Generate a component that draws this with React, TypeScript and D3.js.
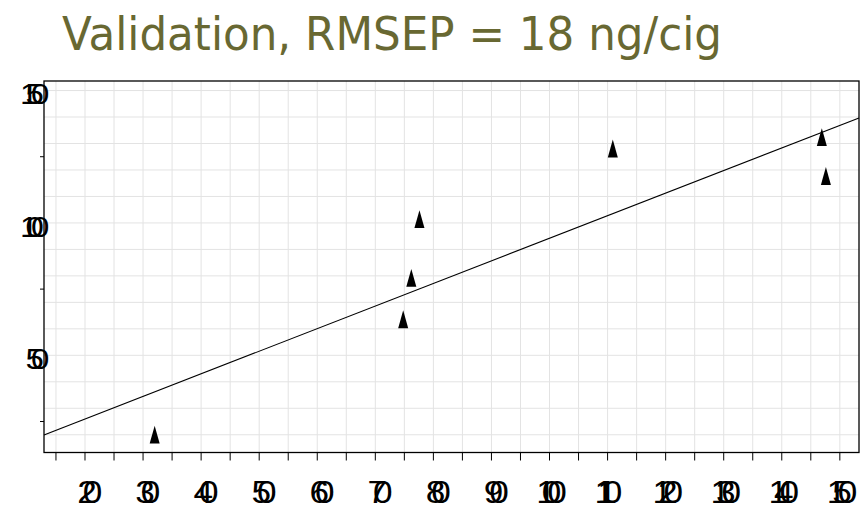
import * as d3 from "d3";
import React from "react";

// observed vs predicted (ng/cig)
const measured = [32.0, 74.8, 76.2, 77.6, 110.9, 146.9, 147.6];
const predicted = [18.9, 62.5, 78.1, 100.3, 127.0, 131.3, 116.6];

// fitted line: y = a + b x
const fitIntercept = 8.9;
const fitSlope = 0.853;

const xTickLabels = [20, 30, 40, 50, 60, 70, 80, 90, 100, 110, 120, 130, 140, 150];
const yTickLabels = [50, 100, 150];

const titleText = "Validation, RMSEP = 18 ng/cig";

const W = 867;
const H = 507;
const plot = { left: 44, right: 859, top: 81, bottom: 452.5 };

// digits in the original are squeezed on top of each other
const STEP = 5.5;
const SX = 1.1;

const SquashedNumber = ({
  value,
  x,
  y,
  fontSize,
}: {
  value: number;
  x: number;
  y: number;
  fontSize: number;
}) => (
  <text
    transform={`translate(${x},${y}) scale(${SX},1)`}
    fontSize={fontSize}
    fontFamily="'Liberation Sans', Arial, sans-serif"
    letterSpacing={STEP / SX - 0.556 * fontSize}
    fill="#000"
  >
    {value}
  </text>
);

const App = () => {
  const x = d3.scaleLinear().domain([12.94, 153.3]).range([plot.left, plot.right]);
  const y = d3.scaleLinear().domain([13.3, 153.6]).range([plot.bottom, plot.top]);

  const xGrid = d3.range(15, 153, 5);
  const yGrid = d3.range(20, 153, 10);
  const yMinor = [25, 75, 125];

  const tri = d3.symbol().type(d3.symbolTriangle).size(60);

  const [x0, x1] = x.domain();
  const fit = d3
    .line<number>()
    .x((d) => x(d))
    .y((d) => y(fitIntercept + fitSlope * d));

  const yFont = 30;
  const zeroRight = 0.512 * yFont * SX;

  return (
    <svg
      width={W}
      height={H}
      style={{ position: "absolute", left: 0, top: 0, background: "#fff" }}
    >
      <text
        x={62}
        y={50}
        textLength={660}
        lengthAdjust="spacingAndGlyphs"
        fontFamily="'DejaVu Sans', sans-serif"
        fontSize={47}
        fill="#686832"
      >
        {titleText}
      </text>

      {/* grid */}
      <g stroke="#e3e3e3" strokeWidth={1}>
        {xGrid.map((v) => (
          <line key={"gx" + v} x1={x(v)} x2={x(v)} y1={plot.top} y2={plot.bottom} />
        ))}
        {yGrid.map((v) => (
          <line key={"gy" + v} x1={plot.left} x2={plot.right} y1={y(v)} y2={y(v)} />
        ))}
      </g>

      {/* fit line */}
      <path d={fit([x0, x1]) || ""} fill="none" stroke="#000" strokeWidth={1.1} />

      {/* points */}
      {measured.map((m, i) => (
        <path
          key={"p" + i}
          d={tri() || ""}
          transform={`translate(${x(m)},${y(predicted[i])}) scale(0.85,1.75)`}
          fill="#000"
        />
      ))}

      {/* frame */}
      <rect
        x={plot.left}
        y={plot.top}
        width={plot.right - plot.left}
        height={plot.bottom - plot.top}
        fill="none"
        stroke="#000"
        strokeWidth={1.3}
      />

      {/* ticks */}
      <g stroke="#000" strokeWidth={1}>
        {xGrid.map((v) => (
          <line key={"tx" + v} x1={x(v)} x2={x(v)} y1={plot.bottom} y2={plot.bottom + 8} />
        ))}
        {yMinor.map((v) => (
          <line key={"ty" + v} x1={plot.left - 4} x2={plot.left} y1={y(v)} y2={y(v)} />
        ))}
      </g>

      {xTickLabels.map((v) => (
        <SquashedNumber
          key={"lx" + v}
          value={v}
          x={x(v) - (v >= 100 ? 13.2 : 7.7)}
          y={503}
          fontSize={32}
        />
      ))}
      {yTickLabels.map((v) => (
        <SquashedNumber
          key={"ly" + v}
          value={v}
          x={48 - zeroRight - (String(v).length - 1) * STEP}
          y={y(v) + 13.7}
          fontSize={yFont}
        />
      ))}
    </svg>
  );
};

export default App;
